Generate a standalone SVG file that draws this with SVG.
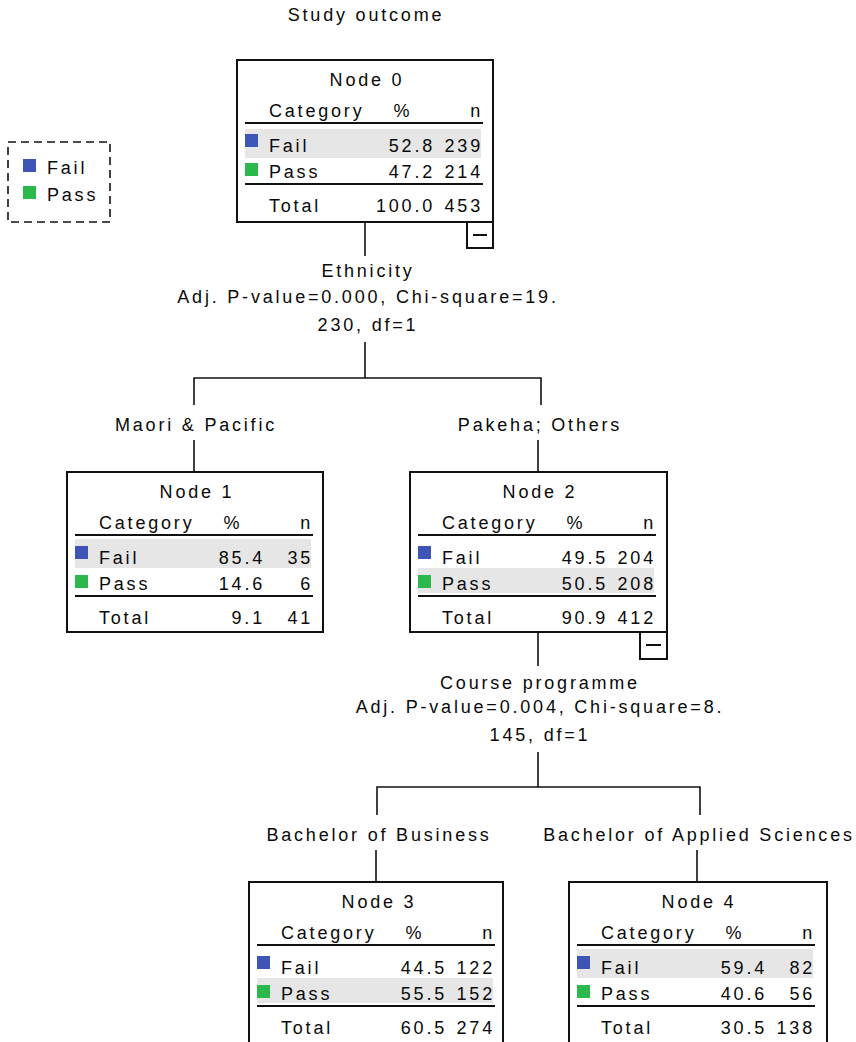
<svg xmlns="http://www.w3.org/2000/svg" width="856" height="1042" viewBox="0 0 856 1042">
<style>
text{font-family:"Liberation Sans",Arial,sans-serif;font-size:18px;letter-spacing:2.8px;fill:#0a0a0a}
.m{text-anchor:middle}
.e{text-anchor:end}
.box{fill:#fff;stroke:#111;stroke-width:2}
.hl{fill:#e6e6e6}
.sep{stroke:#111;stroke-width:2}
.c{stroke:#111;stroke-width:1.6;fill:none}
.b{fill:#3e55b5}
.g{fill:#2db84d}
</style>
<defs>
<g id="hdr">
<text x="32" y="57">Category</text>
<text x="166" y="57" class="m">%</text>
<text x="246" y="57" class="e">n</text>
<line x1="8" y1="63" x2="246" y2="63" class="sep"/>
<line x1="8" y1="124" x2="246" y2="124" class="sep"/>
<rect x="8" y="74" width="13" height="13" class="b"/>
<rect x="8" y="103" width="13" height="13" class="g"/>
<text x="32" y="92">Fail</text>
<text x="32" y="118">Pass</text>
<text x="32" y="152">Total</text>
</g>
</defs>
<text x="366" y="21" class="m">Study outcome</text>
<g id="legend">
<rect x="8" y="142" width="102" height="80" fill="none" stroke="#111" stroke-width="1.6" stroke-dasharray="8,5"/>
<rect x="23" y="159" width="13" height="13" class="b"/>
<text x="47" y="174">Fail</text>
<rect x="23" y="186" width="13" height="13" class="g"/>
<text x="47" y="201">Pass</text>
</g>
<g id="connectors">
<line x1="365" y1="222" x2="365" y2="256" class="c"/>
<line x1="365" y1="342" x2="365" y2="378" class="c"/>
<path d="M194 405V378H541V405" class="c"/>
<line x1="194" y1="440" x2="194" y2="472" class="c"/>
<line x1="538" y1="440" x2="538" y2="472" class="c"/>
<line x1="538" y1="632" x2="538" y2="666" class="c"/>
<line x1="538" y1="752" x2="538" y2="787" class="c"/>
<path d="M377 815V787H700V815" class="c"/>
<line x1="376" y1="850" x2="376" y2="882" class="c"/>
<line x1="697" y1="850" x2="697" y2="882" class="c"/>
</g>
<g id="labels">
<text x="368" y="277" class="m">Ethnicity</text>
<text x="368" y="303" class="m">Adj. P-value=0.000, Chi-square=19.</text>
<text x="368" y="331" class="m">230, df=1</text>
<text x="196" y="431" class="m">Maori &amp; Pacific</text>
<text x="540" y="431" class="m">Pakeha; Others</text>
<text x="540" y="689" class="m">Course programme</text>
<text x="540" y="713" class="m">Adj. P-value=0.004, Chi-square=8.</text>
<text x="540" y="741" class="m">145, df=1</text>
<text x="379" y="841" class="m">Bachelor of Business</text>
<text x="699" y="841" class="m">Bachelor of Applied Sciences</text>
</g>
<g id="node0" transform="translate(237,60)">
<rect x="0" y="0" width="256" height="162" class="box"/>
<rect x="8" y="69" width="236" height="29" class="hl"/>
<text x="130" y="26" class="m">Node 0</text>
<use href="#hdr"/>
<text x="198" y="92" class="e">52.8</text><text x="246" y="92" class="e">239</text>
<text x="198" y="118" class="e">47.2</text><text x="246" y="118" class="e">214</text>
<text x="198" y="152" class="e">100.0</text><text x="246" y="152" class="e">453</text>
<rect x="230" y="162" width="26" height="26" class="box"/>
<line x1="236" y1="175" x2="250" y2="175" class="sep"/>
</g>
<g id="node1" transform="translate(67,472)">
<rect x="0" y="0" width="256" height="160" class="box"/>
<rect x="8" y="67" width="236" height="29" class="hl"/>
<text x="130" y="26" class="m">Node 1</text>
<use href="#hdr"/>
<text x="198" y="92" class="e">85.4</text><text x="246" y="92" class="e">35</text>
<text x="198" y="118" class="e">14.6</text><text x="246" y="118" class="e">6</text>
<text x="198" y="152" class="e">9.1</text><text x="246" y="152" class="e">41</text>
</g>
<g id="node2" transform="translate(410,472)">
<rect x="0" y="0" width="257" height="160" class="box"/>
<rect x="8" y="96" width="236" height="25" class="hl"/>
<text x="130" y="26" class="m">Node 2</text>
<use href="#hdr"/>
<text x="198" y="92" class="e">49.5</text><text x="246" y="92" class="e">204</text>
<text x="198" y="118" class="e">50.5</text><text x="246" y="118" class="e">208</text>
<text x="198" y="152" class="e">90.9</text><text x="246" y="152" class="e">412</text>
<rect x="230" y="160" width="27" height="27" class="box"/>
<line x1="236" y1="173" x2="251" y2="173" class="sep"/>
</g>
<g id="node3" transform="translate(249,882)">
<rect x="0" y="0" width="254" height="170" class="box"/>
<rect x="8" y="96" width="236" height="25" class="hl"/>
<text x="130" y="26" class="m">Node 3</text>
<use href="#hdr"/>
<text x="198" y="92" class="e">44.5</text><text x="246" y="92" class="e">122</text>
<text x="198" y="118" class="e">55.5</text><text x="246" y="118" class="e">152</text>
<text x="198" y="152" class="e">60.5</text><text x="246" y="152" class="e">274</text>
</g>
<g id="node4" transform="translate(569,882)">
<rect x="0" y="0" width="258" height="170" class="box"/>
<rect x="8" y="67" width="236" height="29" class="hl"/>
<text x="130" y="26" class="m">Node 4</text>
<use href="#hdr"/>
<text x="198" y="92" class="e">59.4</text><text x="246" y="92" class="e">82</text>
<text x="198" y="118" class="e">40.6</text><text x="246" y="118" class="e">56</text>
<text x="198" y="152" class="e">30.5</text><text x="246" y="152" class="e">138</text>
</g>
</svg>
